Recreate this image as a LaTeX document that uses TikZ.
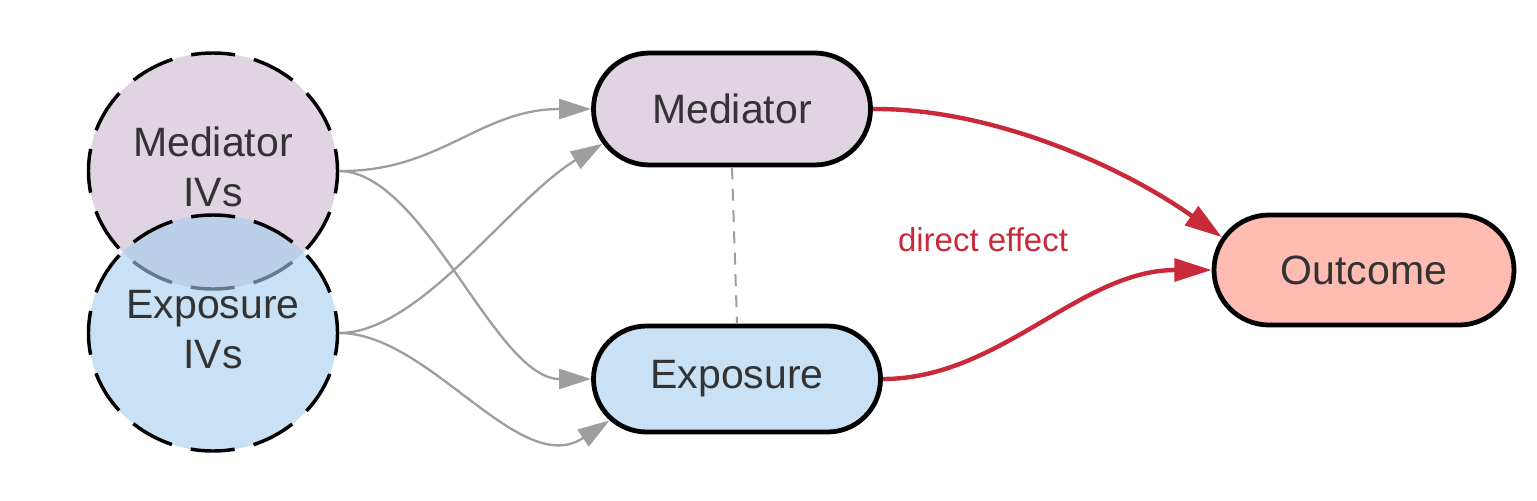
\documentclass[tikz,border=0pt]{standalone}
\usepackage{fontspec}
\setmainfont{Liberation Sans}
\usetikzlibrary{arrows.meta,shapes.misc,shapes.geometric}

\definecolor{medfill}{RGB}{224,211,226}
\definecolor{expfill}{RGB}{201,225,244}
\definecolor{expdeep}{RGB}{165,205,237}
\definecolor{outfill}{RGB}{255,188,178}
\definecolor{effred}{RGB}{200,42,58}
\definecolor{linkgray}{RGB}{158,158,158}
\definecolor{labelgray}{RGB}{51,51,51}

\begin{document}
\begin{tikzpicture}[x=0.75pt,y=0.75pt,yscale=-1,xscale=1,
  ivcircle/.style={ellipse,draw=black,line width=2.6pt,minimum width=186.75pt,minimum height=177pt,
    inner sep=0pt,dash pattern=on 33pt off 14.6pt,dash phase=16.5pt,align=center,text=labelgray,
    text depth=6pt,font=\fontsize{30.75}{37.5}\selectfont},
  varbox/.style={rounded rectangle,draw=black,line width=3.6pt,inner sep=0pt,text=labelgray,
    font=\fontsize{30.75}{37.5}\selectfont},
  ivlink/.style={draw=linkgray,line width=1.75pt,-{Triangle[length=24pt,width=15pt]}},
  redlink/.style={draw=effred,line width=3.3pt,-{Triangle[length=28pt,width=17pt]}}]
\useasboundingbox (0,0) rectangle (1537,500);

%Circles
\node [ivcircle,fill=medfill] (medIV) at (213,171) {Mediator\\IVs};
\node [ivcircle,fill=expdeep,fill opacity=0.6,text opacity=1] (expIV) at (213,333) {Exposure\\IVs};

%Rounded boxes
\node [varbox,fill=medfill,minimum width=207.75pt,minimum height=84pt] (med) at (732,109) {Mediator};
\node [varbox,fill=expfill,minimum width=215.25pt,minimum height=79.5pt] (exp) at (737,379) {Exposure};
\node [varbox,fill=outfill,minimum width=225pt,minimum height=82.5pt] (out) at (1364,270) {Outcome};

%Curves from the IVs
\draw [ivlink] (medIV.east) .. controls (440,172) and (480,109) .. (med.west);
\draw [ivlink] (medIV.east) .. controls (425,172) and (495,379) .. (exp.west);
\draw [ivlink] (expIV.east) .. controls (420,333) and (510,200) .. (med.195);
\draw [ivlink] (expIV.east) .. controls (430,333) and (520,480) .. (exp.198);

%Dashed line
\draw [draw=linkgray,line width=1.5pt,dash pattern=on 9pt off 7pt] (med.south) -- (exp.north);

%Direct effect curves
\draw [redlink] (med.east) .. controls (990,108) and (1120,165) .. (out.167);
\draw [redlink] (exp.east) .. controls (1000,379) and (1080,270) .. (out.west);

% Text Node
\node [text=effred,font=\fontsize{24.75}{30}\selectfont] (effect) at (983,240) {direct effect};

\end{tikzpicture}
\end{document}
